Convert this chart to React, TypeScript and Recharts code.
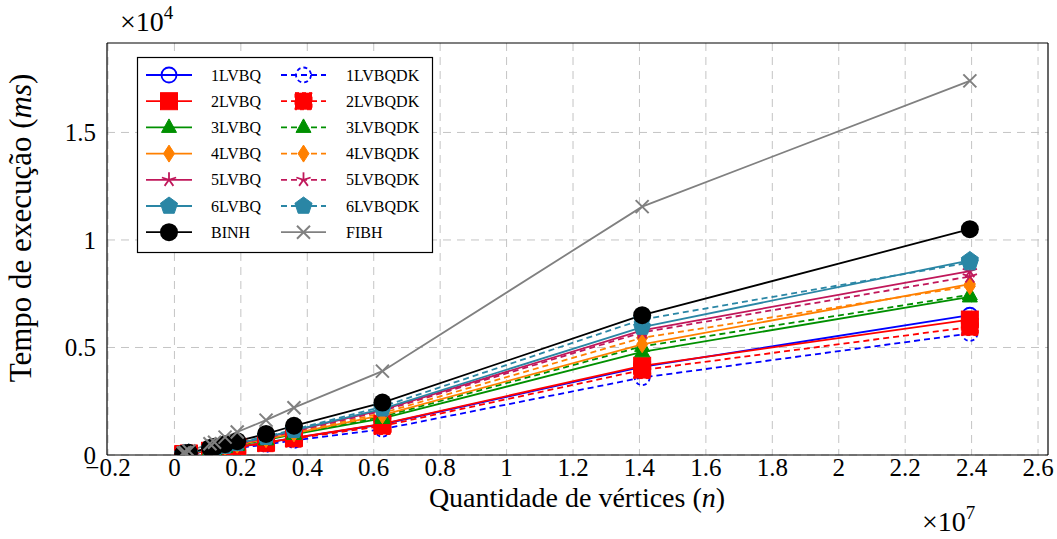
import React from 'react';
import { LineChart, Line, XAxis, YAxis, CartesianGrid } from 'recharts';

// number of vertices of each graph
const vertices = [264346, 321270, 435666, 1070376, 1207945, 1524453, 1890815, 2758119, 3598623, 6262104, 14081816, 23947347];

// running time (ms)
const t1LVBQ = [35, 44, 63, 190, 220, 290, 370, 570, 790, 1430, 4100, 6500];
const t1LVBQDK = [30, 38, 55, 165, 190, 250, 320, 490, 680, 1200, 3600, 5650];
const t2LVBQ = [36, 45, 64, 195, 225, 295, 380, 580, 800, 1450, 4150, 6300];
const t2LVBQDK = [34, 43, 61, 185, 215, 280, 360, 550, 760, 1350, 3950, 5950];
const t3LVBQ = [42, 52, 76, 230, 265, 350, 450, 700, 960, 1700, 4800, 7350];
const t3LVBQDK = [43, 54, 78, 240, 275, 360, 465, 720, 990, 1780, 5050, 7450];
const t4LVBQ = [44, 55, 80, 245, 280, 370, 480, 740, 1010, 1850, 5150, 7950];
const t4LVBQDK = [45, 56, 82, 250, 285, 380, 490, 760, 1040, 1950, 5450, 7850];
const t5LVBQ = [48, 60, 88, 270, 310, 410, 530, 810, 1120, 2100, 5800, 8550];
const t5LVBQDK = [47, 58, 85, 260, 300, 400, 510, 790, 1090, 2050, 5700, 8300];
const t6LVBQ = [50, 62, 90, 280, 320, 420, 540, 830, 1150, 2150, 5950, 9050];
const t6LVBQDK = [52, 64, 94, 290, 330, 430, 560, 860, 1180, 2250, 6300, 8950];
const tBINH = [60, 75, 110, 330, 380, 500, 640, 980, 1360, 2440, 6500, 10500];
const tFIBH = [95, 120, 185, 520, 590, 830, 1070, 1620, 2200, 3900, 11550, 17400];

const xTicks = [-2e6, 0, 2e6, 4e6, 6e6, 8e6, 1e7, 1.2e7, 1.4e7, 1.6e7, 1.8e7, 2e7, 2.2e7, 2.4e7, 2.6e7];
const yTicks = [0, 5000, 10000, 15000];

const xDomain = [-2.03e6, 2.63e7];
const yDomain = [0, 19160];

const series = [
  { name: '1LVBQ', values: t1LVBQ, color: '#0000ff', dashed: false, mark: 'o' },
  { name: '1LVBQDK', values: t1LVBQDK, color: '#0000ff', dashed: true, mark: 'o' },
  { name: '2LVBQ', values: t2LVBQ, color: '#ff0000', dashed: false, mark: 'square' },
  { name: '2LVBQDK', values: t2LVBQDK, color: '#ff0000', dashed: true, mark: 'square' },
  { name: '3LVBQ', values: t3LVBQ, color: '#009000', dashed: false, mark: 'triangle' },
  { name: '3LVBQDK', values: t3LVBQDK, color: '#009000', dashed: true, mark: 'triangle' },
  { name: '4LVBQ', values: t4LVBQ, color: '#ff8000', dashed: false, mark: 'diamond' },
  { name: '4LVBQDK', values: t4LVBQDK, color: '#ff8000', dashed: true, mark: 'diamond' },
  { name: '5LVBQ', values: t5LVBQ, color: '#c0175a', dashed: false, mark: 'star' },
  { name: '5LVBQDK', values: t5LVBQDK, color: '#c0175a', dashed: true, mark: 'star' },
  { name: '6LVBQ', values: t6LVBQ, color: '#2a86a5', dashed: false, mark: 'pentagon' },
  { name: '6LVBQDK', values: t6LVBQDK, color: '#2a86a5', dashed: true, mark: 'pentagon' },
  { name: 'BINH', values: tBINH, color: '#000000', dashed: false, mark: 'dot' },
  { name: 'FIBH', values: tFIBH, color: '#808080', dashed: false, mark: 'x' },
];

const data = vertices.map((n, i) => {
  const row: any = { n };
  series.forEach((s) => { row[s.name] = s.values[i]; });
  return row;
});

const DASH = '6 4';
const LW = 1.8;
const FONT = '"Liberation Serif", "Times New Roman", serif';

function Marker({ cx, cy, mark, color, dashed }: any) {
  const dash = dashed ? '4 3' : undefined;
  if (mark === 'o') {
    return <circle cx={cx} cy={cy} r={7.5} fill="none" stroke={color} strokeWidth={LW} strokeDasharray={dash} />;
  }
  if (mark === 'square') {
    return <rect x={cx - 8.5} y={cy - 8.5} width={17} height={17} fill={color} stroke={color} strokeWidth={1} strokeDasharray={dash} />;
  }
  if (mark === 'triangle') {
    const p = `${cx},${cy - 8.5} ${cx - 7.5},${cy + 5} ${cx + 7.5},${cy + 5}`;
    return <polygon points={p} fill={color} stroke={color} strokeWidth={1} />;
  }
  if (mark === 'diamond') {
    const p = `${cx},${cy - 8.5} ${cx + 5.5},${cy} ${cx},${cy + 8.5} ${cx - 5.5},${cy}`;
    return <polygon points={p} fill={color} stroke={color} strokeWidth={1} />;
  }
  if (mark === 'star') {
    const arms = [0, 1, 2, 3, 4].map((k) => {
      const a = (-90 + 72 * k) * Math.PI / 180;
      return <line key={k} x1={cx} y1={cy} x2={cx + 7.5 * Math.cos(a)} y2={cy + 7.5 * Math.sin(a)} stroke={color} strokeWidth={LW} />;
    });
    return <g>{arms}</g>;
  }
  if (mark === 'pentagon') {
    const p = [0, 1, 2, 3, 4].map((k) => {
      const a = (-90 + 72 * k) * Math.PI / 180;
      return `${cx + 9 * Math.cos(a)},${cy + 9 * Math.sin(a)}`;
    }).join(' ');
    return <polygon points={p} fill={color} stroke={color} strokeWidth={1} />;
  }
  if (mark === 'dot') {
    return <circle cx={cx} cy={cy} r={9} fill={color} />;
  }
  // x
  return (
    <g stroke={color} strokeWidth={2}>
      <line x1={cx - 6.5} y1={cy - 6.5} x2={cx + 6.5} y2={cy + 6.5} />
      <line x1={cx - 6.5} y1={cy + 6.5} x2={cx + 6.5} y2={cy - 6.5} />
    </g>
  );
}

const makeDot = (mark: string, color: string, dashed: boolean) => (props: any) => {
  const { cx, cy, index } = props;
  if (cx == null || cy == null) return <g key={index} />;
  return <g key={index}><Marker cx={cx} cy={cy} mark={mark} color={color} dashed={dashed} /></g>;
};

const fmtX = (v: number) => {
  const t = Math.round(v / 1e6) / 10;
  const s = Number.isInteger(t) ? String(t) : t.toFixed(1);
  return s.replace('-', '\u2212');
};
const fmtY = (v: number) => String(v / 1e4);

function Legend() {
  const x0 = 137.5, y0 = 57.5, w = 295, h = 195;
  const cols = [
    { l1: 146, l2: 192, m: 169, t: 211 },
    { l1: 281, l2: 326, m: 303.5, t: 346 },
  ];
  return (
    <g>
      <rect x={x0} y={y0} width={w} height={h} fill="#fff" stroke="#000" strokeWidth={1.2} />
      {series.map((s, i) => {
        const c = cols[i % 2];
        const y = 75 + Math.floor(i / 2) * 26.2;
        return (
          <g key={s.name}>
            <line x1={c.l1} y1={y} x2={c.l2} y2={y} stroke={s.color} strokeWidth={LW} strokeDasharray={s.dashed ? DASH : undefined} />
            <Marker cx={c.m} cy={y} mark={s.mark} color={s.color} dashed={s.dashed} />
            <text x={c.t} y={y + 5.5} fontFamily={FONT} fontSize={16} fill="#000">{s.name}</text>
          </g>
        );
      })}
    </g>
  );
}

export default function App() {
  const W = 1057, H = 539;
  return (
    <div style={{ position: 'absolute', left: 0, top: 0, width: W, height: H, background: '#fff' }}>
      <LineChart width={W} height={H} data={data} margin={{ top: 43, right: 9, bottom: 83, left: 106 }}>
        <CartesianGrid stroke="#c4c4c4" strokeDasharray="8 6" horizontalValues={yTicks} verticalValues={xTicks} />
        <XAxis dataKey="n" type="number" domain={xDomain} ticks={xTicks} allowDataOverflow height={1}
          tickFormatter={fmtX} tickLine={false} tickSize={0} tickMargin={3}
          axisLine={{ stroke: '#000', strokeWidth: 1.2 }}
          tick={{ fill: '#000', fontFamily: FONT, fontSize: 25 }} />
        <XAxis xAxisId="bt" dataKey="n" type="number" domain={xDomain} ticks={xTicks} allowDataOverflow height={1}
          mirror tick={false} tickSize={5} tickLine={{ stroke: '#999' }} axisLine={false} />
        <XAxis xAxisId="top" orientation="top" dataKey="n" type="number" domain={xDomain} ticks={xTicks} allowDataOverflow height={1}
          mirror tick={false} tickSize={5} tickLine={{ stroke: '#999' }} axisLine={{ stroke: '#000', strokeWidth: 1.2 }} />
        <YAxis type="number" domain={yDomain} ticks={yTicks} allowDataOverflow width={1}
          tickFormatter={fmtY} tickLine={false} tickSize={0} tickMargin={11}
          axisLine={{ stroke: '#000', strokeWidth: 1.2 }}
          tick={{ fill: '#000', fontFamily: FONT, fontSize: 25 }} />
        <YAxis yAxisId="lt" type="number" domain={yDomain} ticks={yTicks} allowDataOverflow width={1}
          mirror tick={false} tickSize={5} tickLine={{ stroke: '#999' }} axisLine={false} />
        <YAxis yAxisId="right" orientation="right" type="number" domain={yDomain} ticks={yTicks} allowDataOverflow width={1}
          mirror tick={false} tickSize={5} tickLine={{ stroke: '#999' }} axisLine={{ stroke: '#000', strokeWidth: 1.2 }} />
        {series.map((s) => (
          <Line key={s.name} type="linear" dataKey={s.name} stroke={s.color} strokeWidth={LW}
            strokeDasharray={s.dashed ? DASH : undefined}
            dot={makeDot(s.mark, s.color, s.dashed)} activeDot={false} isAnimationActive={false} />
        ))}
      </LineChart>
      <svg width={W} height={H} style={{ position: 'absolute', left: 0, top: 0, pointerEvents: 'none' }}>
        <Legend />
        <text x={120} y={31} fontFamily={FONT} fontSize={28} fill="#000">
          ×10<tspan fontSize={19} dy={-12}>4</tspan>
        </text>
        <text x={922} y={531} fontFamily={FONT} fontSize={28} fill="#000">
          ×10<tspan fontSize={19} dy={-12}>7</tspan>
        </text>
        <text x={577} y={507} textAnchor="middle" fontFamily={FONT} fontSize={28} fill="#000">
          Quantidade de vértices (<tspan fontStyle="italic">n</tspan>)
        </text>
        <text transform="translate(31,228) rotate(-90)" textAnchor="middle" fontFamily={FONT} fontSize={31} fill="#000">
          Tempo de execução (<tspan fontStyle="italic">ms</tspan>)
        </text>
      </svg>
    </div>
  );
}
